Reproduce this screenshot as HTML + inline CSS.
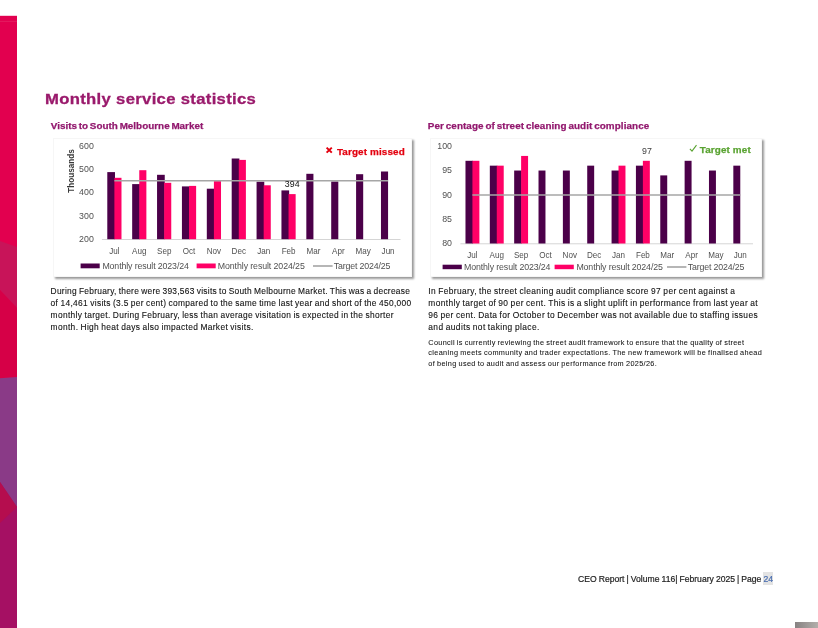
<!DOCTYPE html>
<html lang="en"><head><meta charset="utf-8"><title>Monthly service statistics</title>
<style>
html,body{margin:0;padding:0;background:#fff}
body{width:818px;height:628px;position:relative;overflow:hidden;font-family:"Liberation Sans",sans-serif;color:#1c1c1c}
.abs{position:absolute}
.strip{position:absolute;left:0;top:0}
h1{position:absolute;left:44.8px;top:88.9px;margin:0;font-size:15.3px;line-height:20px;font-weight:bold;color:#9a1a6c;-webkit-text-stroke:0.3px #9a1a6c;white-space:nowrap;transform:scaleX(1.09);transform-origin:0 0}
h2{position:absolute;margin:0;font-size:9.9px;line-height:12px;font-weight:bold;color:#92186e;-webkit-text-stroke:0.25px #92186e;word-spacing:-1px;white-space:nowrap}
.box{position:absolute;background:#fff;border:1px solid #f6f6f6;box-shadow:1.5px 1.5px 2px rgba(0,0,0,.4)}
svg.chart{position:absolute;overflow:visible}
svg.chart text{font-family:"Liberation Sans",sans-serif}
.ax{font-size:8.8px;fill:#505050}
.lg{font-size:8.8px;fill:#505050}
.dl{font-size:8.8px;fill:#111}
.ayt{font-size:8.2px;fill:#383838;font-weight:bold}
.tm{font-size:9.9px;font-weight:bold;stroke-width:0.25px}
.ln{position:absolute;white-space:nowrap;color:#111;-webkit-text-stroke:0.1px #111}
.b{word-spacing:-0.5px;font-size:8.4px;line-height:12px;height:12px}
.s{word-spacing:-0.4px;font-size:7.3px;line-height:10px;height:10px;-webkit-text-stroke:0.05px #111}
.foot{position:absolute;left:578.0px;top:572px;word-spacing:-0.3px;-webkit-text-stroke:0.2px #222;font-size:8.6px;line-height:14px;white-space:nowrap;color:#222}
.foot span{background:#e3e3e3;color:#4a6eb0;-webkit-text-stroke:0.2px #4a6eb0;padding:1.6px .3px 1.4px .6px;margin-left:-.6px}
.corner{position:absolute;left:795px;top:622px;width:23px;height:6px;background:linear-gradient(90deg,#878282,#b3afab)}
</style></head><body>
<svg class="strip" width="18" height="628" viewBox="0 0 18 628">
<rect x="0" y="15.8" width="17" height="613" fill="#e2004f"/>
<rect x="0" y="20.9" width="17" height="0.8" fill="#e6326e" opacity=".7"/>
<polygon points="0,241 17,247 17,308 0,290" fill="#c81459"/>
<polygon points="0,290 17,308 17,377 0,378.3" fill="#d60047"/>
<polygon points="0,378.3 17,377 17,628 0,628" fill="#8a3a87"/>
<polygon points="0,482 17,507 17,628 0,628" fill="#a51063"/>
<polygon points="0,482 17,507 0,523" fill="#b50d4e"/>
</svg>
<h1 style="letter-spacing:0.291px">Monthly service statistics</h1>
<h2 style="left:50.8px;top:120.1px;letter-spacing:0.009px">Visits to South Melbourne Market</h2>
<h2 style="left:427.8px;top:120.1px;letter-spacing:0.076px">Per centage of street cleaning audit compliance</h2>
<div class="box" style="left:52.6px;top:137.9px;width:357.7px;height:137.6px"></div>
<div class="box" style="left:430.1px;top:137.9px;width:330.2px;height:137.6px"></div>
<svg class="chart" style="left:54px;top:139px" width="359" height="137" viewBox="54 139 359 137">
<line x1="101.95" y1="239.5" x2="400.5" y2="239.5" stroke="#d0d0d0" stroke-width="0.9"/>
<rect x="107.29" y="172.1" width="7.70" height="67.10" fill="#4b0049"/>
<rect x="114.39" y="177.8" width="7.1" height="61.40" fill="#ff0066"/>
<rect x="132.17" y="184.1" width="7.70" height="55.10" fill="#4b0049"/>
<rect x="139.27" y="170.2" width="7.1" height="69.00" fill="#ff0066"/>
<rect x="157.05" y="174.8" width="7.70" height="64.40" fill="#4b0049"/>
<rect x="164.15" y="182.8" width="7.1" height="56.40" fill="#ff0066"/>
<rect x="181.93" y="186.4" width="7.70" height="52.80" fill="#4b0049"/>
<rect x="189.03" y="185.9" width="7.1" height="53.30" fill="#ff0066"/>
<rect x="206.81" y="188.7" width="7.70" height="50.50" fill="#4b0049"/>
<rect x="213.91" y="181.1" width="7.1" height="58.10" fill="#ff0066"/>
<rect x="231.69" y="158.5" width="7.70" height="80.70" fill="#4b0049"/>
<rect x="238.79" y="159.9" width="7.1" height="79.30" fill="#ff0066"/>
<rect x="256.57" y="181.7" width="7.70" height="57.50" fill="#4b0049"/>
<rect x="263.67" y="185.3" width="7.1" height="53.90" fill="#ff0066"/>
<rect x="281.45" y="190.4" width="7.70" height="48.80" fill="#4b0049"/>
<rect x="288.55" y="194.1" width="7.1" height="45.10" fill="#ff0066"/>
<rect x="306.33" y="173.8" width="7.10" height="65.40" fill="#4b0049"/>
<rect x="331.21" y="181.5" width="7.10" height="57.70" fill="#4b0049"/>
<rect x="356.09" y="174.2" width="7.10" height="65.00" fill="#4b0049"/>
<rect x="380.97" y="171.5" width="7.10" height="67.70" fill="#4b0049"/>
<line x1="114.4" y1="180.8" x2="388.1" y2="180.8" stroke="#a6a6a6" stroke-width="1.4"/>
<text class="ax" x="93.8" y="148.5" text-anchor="end">600</text>
<text class="ax" x="93.8" y="171.9" text-anchor="end">500</text>
<text class="ax" x="93.8" y="195.3" text-anchor="end">400</text>
<text class="ax" x="93.8" y="218.7" text-anchor="end">300</text>
<text class="ax" x="93.8" y="242.1" text-anchor="end">200</text>
<text class="ax" transform="translate(114.4,253.7) scale(.92,1)" text-anchor="middle">Jul</text>
<text class="ax" transform="translate(139.3,253.7) scale(.92,1)" text-anchor="middle">Aug</text>
<text class="ax" transform="translate(164.2,253.7) scale(.92,1)" text-anchor="middle">Sep</text>
<text class="ax" transform="translate(189.0,253.7) scale(.92,1)" text-anchor="middle">Oct</text>
<text class="ax" transform="translate(213.9,253.7) scale(.92,1)" text-anchor="middle">Nov</text>
<text class="ax" transform="translate(238.8,253.7) scale(.92,1)" text-anchor="middle">Dec</text>
<text class="ax" transform="translate(263.7,253.7) scale(.92,1)" text-anchor="middle">Jan</text>
<text class="ax" transform="translate(288.6,253.7) scale(.92,1)" text-anchor="middle">Feb</text>
<text class="ax" transform="translate(313.4,253.7) scale(.92,1)" text-anchor="middle">Mar</text>
<text class="ax" transform="translate(338.3,253.7) scale(.92,1)" text-anchor="middle">Apr</text>
<text class="ax" transform="translate(363.2,253.7) scale(.92,1)" text-anchor="middle">May</text>
<text class="ax" transform="translate(388.1,253.7) scale(.92,1)" text-anchor="middle">Jun</text>
<text class="dl" x="292.2" y="187.3" text-anchor="middle">394</text>
<text class="ayt" transform="translate(74,171) rotate(-90)" text-anchor="middle">Thousands</text>
<rect x="80.6" y="263.5" width="19.1" height="4.8" fill="#4b0049"/>
<text class="lg" x="102.4" y="268.8" textLength="86.5">Monthly result 2023/24</text>
<rect x="196.6" y="263.5" width="19.1" height="4.8" fill="#ff0066"/>
<text class="lg" x="217.8" y="268.8" textLength="87">Monthly result 2024/25</text>
<line x1="313" y1="266" x2="332.6" y2="266" stroke="#8f8f8f" stroke-width="1.3"/>
<text class="lg" x="333.8" y="268.8" textLength="56.5">Target 2024/25</text>
<path d="M326.6 147.6 L331.8 152.6 M331.8 147.6 L326.6 152.6" stroke="#e3000f" stroke-width="2" fill="none"/>
<text class="tm" x="336.9" y="155.3" fill="#e3000f" stroke="#e3000f" textLength="67.8">Target missed</text>
</svg>
<svg class="chart" style="left:433px;top:139px" width="330" height="138" viewBox="433 139 330 138">
<line x1="460.4" y1="243.8" x2="753" y2="243.8" stroke="#d0d0d0" stroke-width="0.9"/>
<rect x="465.48" y="160.80" width="7.55" height="82.70" fill="#4b0049"/>
<rect x="472.43" y="160.80" width="6.95" height="82.70" fill="#ff0066"/>
<rect x="489.82" y="165.66" width="7.55" height="77.84" fill="#4b0049"/>
<rect x="496.77" y="165.66" width="6.95" height="77.84" fill="#ff0066"/>
<rect x="514.17" y="170.53" width="7.55" height="72.97" fill="#4b0049"/>
<rect x="521.12" y="155.93" width="6.95" height="87.57" fill="#ff0066"/>
<rect x="538.52" y="170.53" width="6.95" height="72.97" fill="#4b0049"/>
<rect x="562.88" y="170.53" width="6.95" height="72.97" fill="#4b0049"/>
<rect x="587.22" y="165.66" width="6.95" height="77.84" fill="#4b0049"/>
<rect x="611.57" y="170.53" width="7.55" height="72.97" fill="#4b0049"/>
<rect x="618.52" y="165.66" width="6.95" height="77.84" fill="#ff0066"/>
<rect x="635.92" y="165.66" width="7.55" height="77.84" fill="#4b0049"/>
<rect x="642.88" y="160.80" width="6.95" height="82.70" fill="#ff0066"/>
<rect x="660.27" y="175.40" width="6.95" height="68.10" fill="#4b0049"/>
<rect x="684.62" y="160.80" width="6.95" height="82.70" fill="#4b0049"/>
<rect x="708.97" y="170.53" width="6.95" height="72.97" fill="#4b0049"/>
<rect x="733.33" y="165.66" width="6.95" height="77.84" fill="#4b0049"/>
<line x1="472.4" y1="195" x2="740.3" y2="195" stroke="#a6a6a6" stroke-width="1.4"/>
<text class="ax" x="452" y="149.1" text-anchor="end">100</text>
<text class="ax" x="452" y="173.4" text-anchor="end">95</text>
<text class="ax" x="452" y="197.8" text-anchor="end">90</text>
<text class="ax" x="452" y="222.1" text-anchor="end">85</text>
<text class="ax" x="452" y="246.4" text-anchor="end">80</text>
<text class="ax" transform="translate(472.4,258.4) scale(.92,1)" text-anchor="middle">Jul</text>
<text class="ax" transform="translate(496.8,258.4) scale(.92,1)" text-anchor="middle">Aug</text>
<text class="ax" transform="translate(521.1,258.4) scale(.92,1)" text-anchor="middle">Sep</text>
<text class="ax" transform="translate(545.5,258.4) scale(.92,1)" text-anchor="middle">Oct</text>
<text class="ax" transform="translate(569.8,258.4) scale(.92,1)" text-anchor="middle">Nov</text>
<text class="ax" transform="translate(594.2,258.4) scale(.92,1)" text-anchor="middle">Dec</text>
<text class="ax" transform="translate(618.5,258.4) scale(.92,1)" text-anchor="middle">Jan</text>
<text class="ax" transform="translate(642.9,258.4) scale(.92,1)" text-anchor="middle">Feb</text>
<text class="ax" transform="translate(667.2,258.4) scale(.92,1)" text-anchor="middle">Mar</text>
<text class="ax" transform="translate(691.6,258.4) scale(.92,1)" text-anchor="middle">Apr</text>
<text class="ax" transform="translate(715.9,258.4) scale(.92,1)" text-anchor="middle">May</text>
<text class="ax" transform="translate(740.3,258.4) scale(.92,1)" text-anchor="middle">Jun</text>
<text class="dl" x="646.9" y="154" text-anchor="middle" style="fill:#404040">97</text>
<rect x="442.6" y="264.7" width="19.2" height="4.5" fill="#4b0049"/>
<text class="lg" x="464" y="269.8" textLength="86.5">Monthly result 2023/24</text>
<rect x="554.6" y="264.7" width="19.2" height="4.5" fill="#ff0066"/>
<text class="lg" x="576.4" y="269.8" textLength="86.5">Monthly result 2024/25</text>
<line x1="667" y1="267" x2="686.4" y2="267" stroke="#8f8f8f" stroke-width="1.3"/>
<text class="lg" x="687.8" y="269.8" textLength="56.5">Target 2024/25</text>
<path d="M689.9 148.9 L692 151.2 L696.5 145.2" stroke="#5aa332" stroke-width="1.1" fill="none"/>
<text class="tm" x="699.7" y="152.9" fill="#5aa332" stroke="#5aa332" textLength="51">Target met</text>
</svg>
<div class="ln b" style="left:50.6px;top:285.19px;letter-spacing:0.267px">During February, there were 393,563 visits to South Melbourne Market. This was a decrease</div>
<div class="ln b" style="left:50.6px;top:297.19px;letter-spacing:0.332px">of 14,461 visits (3.5 per cent) compared to the same time last year and short of the 450,000</div>
<div class="ln b" style="left:50.6px;top:309.19px;letter-spacing:0.342px">monthly target. During February, less than average visitation is expected in the shorter</div>
<div class="ln b" style="left:50.6px;top:321.19px;letter-spacing:0.352px">month. High heat days also impacted Market visits.</div>
<div class="ln b" style="left:428.3px;top:285.19px;letter-spacing:0.378px">In February, the street cleaning audit compliance score 97 per cent against a</div>
<div class="ln b" style="left:428.3px;top:297.19px;letter-spacing:0.379px">monthly target of 90 per cent. This is a slight uplift in performance from last year at</div>
<div class="ln b" style="left:428.3px;top:309.19px;letter-spacing:0.372px">96 per cent. Data for October to December was not available due to staffing issues</div>
<div class="ln b" style="left:428.3px;top:321.19px;letter-spacing:0.408px">and audits not taking place.</div>
<div class="ln s" style="left:428.3px;top:337.57px;letter-spacing:0.324px">Council is currently reviewing the street audit framework to ensure that the quality of street</div>
<div class="ln s" style="left:428.3px;top:347.57px;letter-spacing:0.358px">cleaning meets community and trader expectations. The new framework will be finalised ahead</div>
<div class="ln s" style="left:428.3px;top:358.57px;letter-spacing:0.341px">of being used to audit and assess our performance from 2025/26.</div>
<div class="foot" style="letter-spacing:-0.008px">CEO Report | Volume 116| February 2025 | Page <span>24</span></div>
<div class="corner"></div>
</body></html>
